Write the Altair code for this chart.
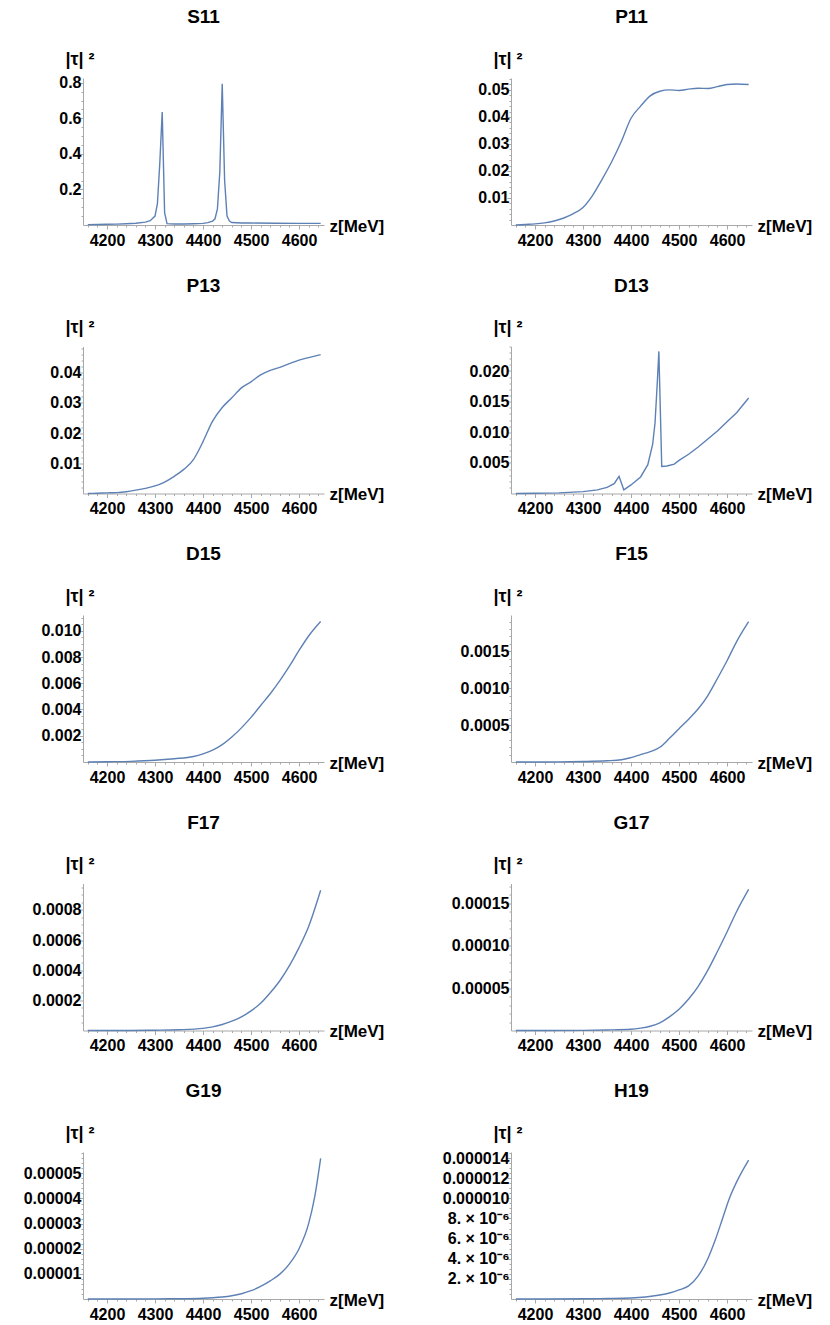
import altair as alt
import pandas as pd

PANELS = ["S11", "P11", "P13", "D13", "D15", "F15", "F17", "G17", "G19", "H19"]

Z_S11 = [4160, 4180, 4200, 4220, 4240, 4260, 4280, 4290, 4300, 4305, 4310, 4315, 4320, 4325, 4340, 4360, 4380,
         4400, 4410, 4420, 4425, 4430, 4435, 4440, 4445, 4450, 4455, 4460, 4480, 4500, 4550, 4600, 4645]
V_S11 = [0.002, 0.003, 0.004, 0.005, 0.007, 0.01, 0.016, 0.024, 0.05, 0.12, 0.35, 0.635, 0.07, 0.008, 0.006, 0.006,
         0.007, 0.009, 0.013, 0.022, 0.035, 0.09, 0.3, 0.795, 0.25, 0.05, 0.022, 0.014, 0.011, 0.011, 0.010, 0.009, 0.009]

Z_P11 = [4160, 4180, 4200, 4220, 4240, 4260, 4280, 4300, 4320, 4340, 4360, 4380, 4400, 4420, 4440, 4460, 4480,
         4500, 4520, 4540, 4560, 4580, 4600, 4620, 4645]
V_P11 = [0.0, 0.0002, 0.0004, 0.0008, 0.0015, 0.0026, 0.0042, 0.0065, 0.0110, 0.0170, 0.0235, 0.0310, 0.0395,
         0.0440, 0.0478, 0.0495, 0.0500, 0.0498, 0.0503, 0.0506, 0.0505, 0.0512, 0.0520, 0.0522, 0.0520]

Z_P13 = [4160, 4180, 4200, 4220, 4240, 4260, 4280, 4300, 4320, 4340, 4360, 4380, 4390, 4400, 4420, 4440, 4460,
         4480, 4500, 4520, 4540, 4560, 4580, 4600, 4620, 4645]
V_P13 = [0.0, 0.0001, 0.0002, 0.0003, 0.0006, 0.0011, 0.0017, 0.0025, 0.0038, 0.0057, 0.0080, 0.0112, 0.0140,
         0.0172, 0.0240, 0.0285, 0.0317, 0.035, 0.037, 0.0393, 0.0408, 0.0418, 0.043, 0.0442, 0.045, 0.046]

Z_D13 = [4160, 4200, 4250, 4300, 4330, 4350, 4365, 4375, 4385, 4400, 4420, 4435, 4445, 4450, 4455, 4458, 4464,
         4475, 4490, 4500, 4520, 4540, 4560, 4580, 4600, 4620, 4645]
V_D13 = [0.0, 0.00005, 0.0001, 0.0003, 0.0006, 0.001, 0.0016, 0.0028, 0.0006, 0.0014, 0.0027, 0.0047, 0.008,
         0.0115, 0.0185, 0.0232, 0.0044, 0.0045, 0.0048, 0.0054, 0.0064, 0.0076, 0.0089, 0.0102, 0.0117, 0.0132, 0.0156]

Z_D15 = [4160, 4200, 4250, 4300, 4340, 4380, 4400, 4420, 4440, 4460, 4480, 4500, 4520, 4540, 4560, 4580, 4600,
         4620, 4645]
V_D15 = [0.0, 0.00002, 0.00005, 0.00013, 0.00025, 0.00042, 0.00062, 0.0009, 0.00132, 0.0019, 0.0026, 0.0034, 0.0043,
         0.0052, 0.0062, 0.0073, 0.0085, 0.0096, 0.0107]

Z_F15 = [4160, 4250, 4300, 4350, 4380, 4400, 4420, 4440, 4460, 4480, 4500, 4520, 4540, 4560, 4580, 4600, 4620, 4645]
V_F15 = [0.0, 0.000002, 0.000006, 0.000016, 0.00003, 0.00006, 0.0001, 0.00014, 0.0002, 0.00032, 0.00045, 0.00058,
         0.00072, 0.0009, 0.00113, 0.00137, 0.00163, 0.0019]

Z_F17 = [4160, 4250, 4300, 4350, 4400, 4420, 4440, 4460, 4480, 4500, 4520, 4540, 4560, 4580, 4600, 4620, 4645]
V_F17 = [0.0, 0.0000005, 0.000002, 0.000005, 0.000014, 0.000024, 0.00004, 0.000062, 0.00009, 0.00013, 0.00018,
         0.00025, 0.00033, 0.00043, 0.00055, 0.00069, 0.00093]

Z_G17 = [4160, 4300, 4350, 4400, 4420, 4440, 4460, 4480, 4500, 4520, 4540, 4560, 4580, 4600, 4620, 4645]
V_G17 = [0.0, 0.0000002, 0.0000006, 0.0000015, 0.0000028, 0.000005, 0.000009, 0.000016, 0.000025, 0.000037,
         0.000052, 0.000071, 0.000093, 0.000116, 0.00014, 0.000166]

Z_G19 = [4160, 4300, 4350, 4400, 4420, 4440, 4460, 4480, 4500, 4520, 4540, 4560, 4580, 4600, 4620, 4632, 4645]
V_G19 = [0.0, 0.00000005, 0.0000001, 0.0000003, 0.0000005, 0.0000008, 0.0000013, 0.0000021, 0.0000033, 0.000005,
         0.0000072, 0.0000099, 0.000014, 0.00002, 0.00003, 0.00004, 0.000056]

Z_H19 = [4160, 4300, 4350, 4400, 4430, 4460, 4480, 4500, 4520, 4540, 4560, 4575, 4590, 4605, 4625, 4645]
V_H19 = [0.0, 0.00000002, 0.00000005, 0.0000001, 0.0000002, 0.0000004, 0.0000006, 0.0000009, 0.0000013,
         0.0000023, 0.000004, 0.0000058, 0.0000079, 0.00001, 0.0000121, 0.0000138]

# y-axis: (top of range, major step, minor step, label format)
Y_TOP = [0.827, 0.0544, 0.0487, 0.024, 0.0112, 0.00199, 0.000975, 0.000173, 0.0000585, 0.0000146]
Y_MAJOR = [0.2, 0.01, 0.01, 0.005, 0.002, 0.0005, 0.0002, 0.00005, 0.00001, 0.000002]
Y_MINOR = [0.05, 0.002, 0.002, 0.001, 0.0005, 0.0001, 0.00005, 0.00001, 0.000002, 0.0000005]
Y_FMT = [".1f", ".2f", ".2f", ".3f", ".3f", ".4f", ".4f", ".5f", ".5f", ".6f"]

X_TICKS = [4160, 4180, 4200, 4220, 4240, 4260, 4280, 4300, 4320, 4340, 4360, 4380, 4400, 4420, 4440, 4460,
           4480, 4500, 4520, 4540, 4560, 4580, 4600, 4620, 4640]

DATA = {
    "S11": (Z_S11, V_S11), "P11": (Z_P11, V_P11), "P13": (Z_P13, V_P13), "D13": (Z_D13, V_D13),
    "D15": (Z_D15, V_D15), "F15": (Z_F15, V_F15), "F17": (Z_F17, V_F17), "G17": (Z_G17, V_G17),
    "G19": (Z_G19, V_G19), "H19": (Z_H19, V_H19),
}

FONT = "Liberation Sans"
AXIS_GRAY = "#a8a8a8"
LINE_COLOR = "#5e81b5"
W, H = 241, 147

panels = []
for i, name in enumerate(PANELS):
    z, v = DATA[name]
    df = pd.DataFrame({"z": z, "v": v})
    top, major, minor, fmt = Y_TOP[i], Y_MAJOR[i], Y_MINOR[i], Y_FMT[i]
    n = int(top / minor + 1e-9)
    yticks = [round(k * minor, 12) for k in range(1, n + 1)]
    test = f"abs(datum.value / {major} - round(datum.value / {major})) < 0.001"
    if name == "H19":
        lab = (f"{test} ? (datum.value < 0.0000095 ? format(datum.value * 1000000, 'd') + '. × 10⁻⁶' "
               f": format(datum.value, '.6f')) : ''")
    else:
        lab = f"{test} ? format(datum.value, '{fmt}') : ''"
    interp = "linear" if name in ("S11", "D13") else "monotone"
    xaxis = alt.Axis(
        values=X_TICKS, labelExpr="datum.value % 100 == 0 ? format(datum.value, 'd') : ''",
        tickSize={"condition": {"test": "datum.value % 100 == 0", "value": 4}, "value": 2},
        grid=False, domainColor=AXIS_GRAY, tickColor=AXIS_GRAY, labelPadding=3,
        labelFont=FONT, labelFontSize=16, labelFontWeight="bold", labelColor="black",
        title="z[MeV]", titleFont=FONT, titleFontSize=17, titleFontWeight="bold", titleColor="black",
        titleAngle=0, titleAlign="left", titleBaseline="middle", titleX=W + 5, titleY=1,
    )
    yaxis = alt.Axis(
        values=yticks, labelExpr=lab,
        tickSize={"condition": {"test": test, "value": 4}, "value": 2},
        grid=False, domainColor=AXIS_GRAY, tickColor=AXIS_GRAY, labelPadding=-2,
        labelFont=FONT, labelFontSize=16, labelFontWeight="bold", labelColor="black",
        title="|τ|  ²", titleFont=FONT, titleFontSize=18, titleFontWeight="bold", titleColor="black",
        titleAngle=0, titleAlign="left", titleBaseline="alphabetic", titleX=-18, titleY=-14,
    )
    ch = alt.Chart(df).mark_line(color=LINE_COLOR, strokeWidth=1.4, interpolate=interp).encode(
        x=alt.X("z:Q", scale=alt.Scale(domain=[4150, 4652], nice=False, zero=False), axis=xaxis),
        y=alt.Y("v:Q", scale=alt.Scale(domain=[0, top], nice=False, zero=False), axis=yaxis),
    ).properties(
        width=W, height=H,
        title=alt.TitleParams(text=name, font=FONT, fontSize=19, fontWeight="bold", color="black",
                              anchor="middle", frame="group", offset=8, baseline="alphabetic"),
    )
    panels.append(ch)

chart = alt.concat(*panels, columns=2, spacing={"row": 121.5, "column": 187}, bounds="flush").properties(
    padding={"left": 15, "top": 0, "right": 5, "bottom": 5}
).configure_view(stroke=None)

chart.save("out.html", embed_options={"renderer": "svg", "actions": False})
